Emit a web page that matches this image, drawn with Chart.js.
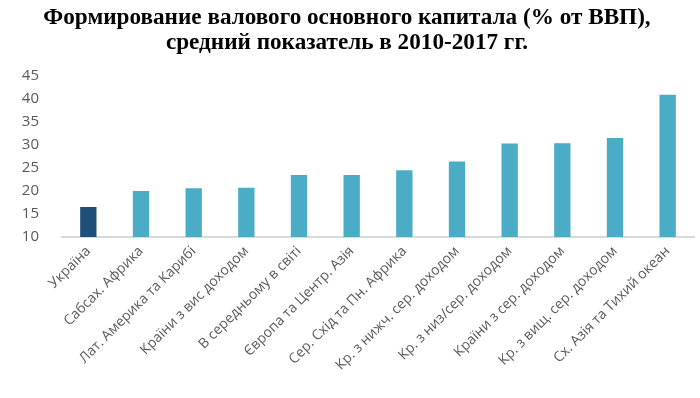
<!DOCTYPE html>
<html>
<head>
<meta charset="utf-8">
<script src="https://cdn.jsdelivr.net/npm/chart.js@4/dist/chart.umd.min.js"></script>
<style>
  html, body { margin: 0; padding: 0; background: #fff; }
  #wrap { width: 700px; height: 398px; }
</style>
</head>
<body>
<div id="wrap"><canvas id="capitalChart"></canvas></div>
<script>
const regions = [
  "Україна",
  "Сабсах. Африка",
  "Лат. Америка та Карибі",
  "Країни з вис доходом",
  "В середньому в світі",
  "Європа та Центр. Азія",
  "Сер. Схід та Пн. Африка",
  "Кр. з нижч. сер. доходом",
  "Кр. з низ/сер. доходом",
  "Країни з сер. доходом",
  "Кр. з вищ. сер. доходом",
  "Сх. Азія та Тихий океан"
];
const shares = [16.5, 20.0, 20.6, 20.7, 23.5, 23.5, 24.5, 26.4, 30.3, 30.4, 31.5, 40.9];
const titleLines = [
  "Формирование валового основного капитала (% от ВВП),",
  "средний показатель в 2010-2017 гг."
];

Chart.defaults.font.family = "'Open Sans', sans-serif";
Chart.defaults.color = "#595959";

const barColors = regions.map((r) => (r === "Україна" ? "#1f4e79" : "#4bacc6"));

new Chart("capitalChart", {
  type: "bar",
  data: {
    labels: regions,
    datasets: [
      {
        data: shares,
        backgroundColor: barColors,
        barPercentage: 0.31,
        categoryPercentage: 1
      }
    ]
  },
  options: {
    responsive: true,
    maintainAspectRatio: false,
    animation: false,
    layout: { padding: { left: 0, right: 6, top: 0, bottom: 0 } },
    plugins: {
      legend: { display: false },
      tooltip: { enabled: false },
      title: {
        display: true,
        text: titleLines,
        color: "#000",
        font: { family: "'Liberation Serif', serif", size: 23.2, weight: "bold", lineHeight: "25px" },
        padding: { top: 5.5, bottom: 20.5 }
      }
    },
    scales: {
      x: {
        grid: { display: false, drawTicks: false },
        border: { display: true, color: "#d9d9d9", width: 2 },
        ticks: {
          minRotation: 45,
          maxRotation: 45,
          autoSkip: false,
          padding: 6,
          font: { size: 14 }
        },
        afterFit: (scale) => { scale.height = 161; }
      },
      y: {
        min: 10,
        max: 45,
        grid: { display: false, drawTicks: false },
        border: { display: false },
        ticks: { stepSize: 5, padding: 23, font: { size: 15 } },
        afterFit: (scale) => { scale.width = 62; }
      }
    }
  }
});
</script>
</body>
</html>
